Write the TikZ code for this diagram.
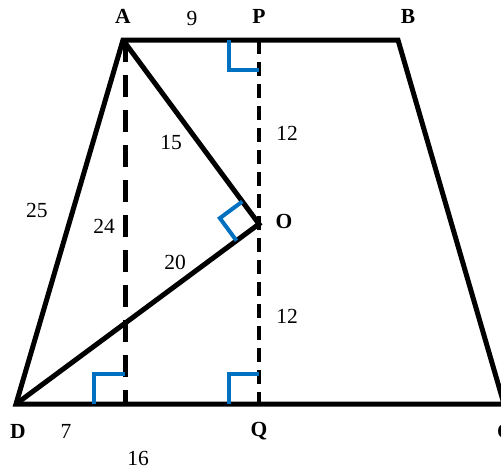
\documentclass[tikz,border=0pt]{standalone}
\usepackage{fontspec}
\setmainfont{Liberation Serif}
\usetikzlibrary{calc}
\definecolor{markblue}{RGB}{0,112,192}
\begin{document}
\begin{tikzpicture}[x=1pt,y=-1pt,
  edge/.style={line width=5pt, line join=miter},
  hdash/.style={line width=5pt, dash pattern=on 22pt off 13pt},
  pdash/.style={line width=4.5pt, dash pattern=on 14pt off 8pt},
  rmark/.style={line width=4pt, draw=markblue},
  pt/.style={font=\fontsize{21.5}{25}\selectfont\bfseries, inner sep=0pt},
  num/.style={font=\fontsize{21.5}{25}\selectfont, inner sep=0pt}]
\useasboundingbox (0,0) rectangle (501,472);
\coordinate (A) at (123,40);
\coordinate (P) at (259,40);
\coordinate (B) at (398,40);
\coordinate (C) at (504,404);
\coordinate (D) at (16,404);
\coordinate (Q) at (259,404);
\coordinate (H) at (125,404);
\coordinate (Ht) at (125,40);
\coordinate (O) at (259,224);
% dashed heights
\draw[hdash] (Ht) -- (H);
\draw[pdash] (P) -- (Q);
% trapezoid and segments
\draw[edge] (A) -- (B) -- (C) -- (D) -- cycle;
\draw[edge] (A) -- (O) -- (D);
% right angle marks
\draw[rmark] (229,40) -- (229,70) -- (P|-0,70);
\draw[rmark] (H|-0,374) -- (94,374) -- (94,404);
\draw[rmark] (229,404) -- (229,374) -- (Q|-0,374);
\coordinate (Oa) at ($(O)!28pt!(A)$);
\coordinate (Od) at ($(O)!28pt!(D)$);
\draw[rmark] (Oa) -- ($(Oa)+(Od)-(O)$) -- (Od);
% labels
\node[pt] (lA) at (123,16) {A};
\node[pt] (lP) at (259,16) {P};
\node[pt] (lB) at (408,16) {B};
\node[pt] (lO) at (284,221) {O};
\node[pt] (lD) at (18,431) {D};
\node[pt] (lQ) at (259,431) {Q};
\node[pt] (lC) at (505,431) {C};
\node[num] (n9) at (192,18) {9};
\node[num] (n12a) at (287,133) {12};
\node[num] (n15) at (171,143) {15};
\node[num] (n25) at (37,210) {25};
\node[num] (n24) at (104,226) {24};
\node[num] (n20) at (175,262) {20};
\node[num] (n12b) at (287,316) {12};
\node[num] (n7) at (66,431) {7};
\node[num] (n16) at (138,458) {16};
\end{tikzpicture}
\end{document}
